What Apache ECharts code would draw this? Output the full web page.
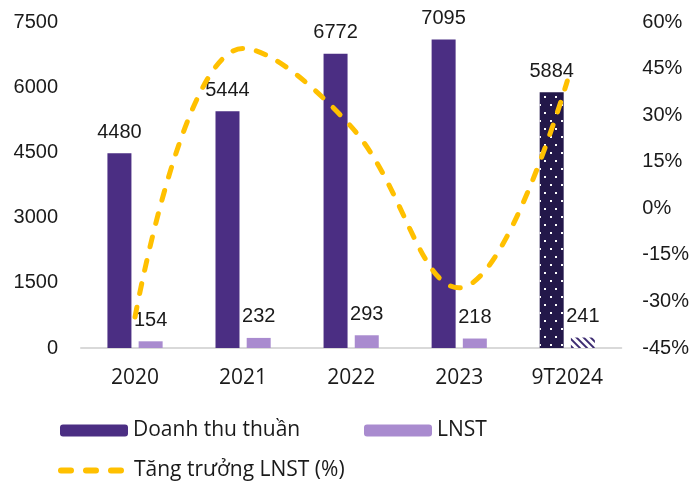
<!DOCTYPE html>
<html>
<head>
<meta charset="utf-8">
<script src="https://cdn.jsdelivr.net/npm/echarts@6/dist/echarts.min.js"></script>
<style>
  html, body { margin: 0; padding: 0; background: #fff; }
  #chart { width: 692px; height: 487px; }
</style>
</head>
<body>
<div id="chart"></div>
<script>
// số liệu
var categories = ['2020', '2021', '2022', '2023', '9T2024'];
var revenue = [4480, 5444, 6772, 7095, 5884];   // Doanh thu thuần
var profit = [154, 232, 293, 218, 241];          // LNST
var growth = [-35, 51.5, 26.3, -25.6, 41];       // Tăng trưởng LNST (%)
var leftTicks = [0, 7500, 1500];
var rightTicks = [-45, 60, 15];

var textFont = 'Open Sans';
var numFont = 'Liberation Sans';

var chart = echarts.init(document.getElementById('chart'));

// cột 9T2024 có hoa văn riêng
var revenueData = revenue.map(function (v, i) {
    if (categories[i] !== '9T2024') return v;
    return {
        value: v,
        itemStyle: {
            color: '#23184A',
            decal: {
                symbol: 'rect',
                symbolSize: 1,
                color: '#ffffff',
                dashArrayX: [[2, 9], [0, 5, 2, 4]],
                dashArrayY: [2, 6]
            }
        }
    };
});
var profitData = profit.map(function (v, i) {
    if (categories[i] !== '9T2024') return v;
    return {
        value: v,
        itemStyle: {
            color: '#ffffff',
            decal: {
                symbol: 'rect',
                symbolSize: 1,
                color: '#3B2A70',
                rotation: Math.PI / 4,
                dashArrayX: [1, 0],
                dashArrayY: [2, 3]
            }
        }
    };
});

var barLabel = {
    show: true,
    position: 'top',
    distance: 11,
    fontFamily: numFont,
    fontSize: 20,
    color: '#1a1a1a'
};

var legendText = { fontFamily: textFont, fontSize: 21, color: '#1a1a1a' };

chart.setOption({
    animation: false,
    grid: { left: 81, right: 70, top: 22, bottom: 139 },
    //chú giải
    legend: [{
        data: ['Doanh thu thuần'],
        left: 55, top: 415,
        itemWidth: 68, itemHeight: 12,
        textStyle: legendText
    }, {
        data: ['LNST'],
        left: 359, top: 415,
        itemWidth: 68, itemHeight: 12,
        textStyle: legendText
    }, {
        data: ['Tăng trưởng LNST (%)'],
        left: 53, top: 455,
        itemWidth: 68, itemHeight: 14,
        itemStyle: { opacity: 0 },
        lineStyle: { width: 6, type: [10, 15], cap: 'round' },
        textStyle: legendText
    }],
    xAxis: {
        type: 'category',
        data: categories,
        axisLine: { lineStyle: { color: '#D9D9D9', width: 2 } },
        axisTick: { show: false },
        axisLabel: { fontFamily: textFont, fontSize: 21, color: '#1a1a1a', margin: 20 }
    },
    yAxis: [{
        type: 'value',
        min: leftTicks[0], max: leftTicks[1], interval: leftTicks[2],
        splitLine: { show: false },
        axisLine: { show: false },
        axisTick: { show: false },
        axisLabel: {
            fontFamily: numFont, fontSize: 20, color: '#1a1a1a', margin: 23,
            formatter: function (v) { return String(v); }
        }
    }, {
        type: 'value',
        min: rightTicks[0], max: rightTicks[1], interval: rightTicks[2],
        splitLine: { show: false },
        axisLine: { show: false },
        axisTick: { show: false },
        axisLabel: { fontFamily: numFont, fontSize: 20, color: '#1a1a1a', margin: 21, formatter: '{value}%' }
    }],
    series: [{
        name: 'Doanh thu thuần',
        type: 'bar',
        data: revenueData,
        barWidth: 24,
        barGap: '30%',
        itemStyle: { color: '#4B2E83' },
        label: barLabel
    }, {
        name: 'LNST',
        type: 'bar',
        data: profitData,
        barWidth: 24,
        itemStyle: { color: '#A98BCF' },
        label: barLabel
    }, {
        name: 'Tăng trưởng LNST (%)',
        type: 'line',
        yAxisIndex: 1,
        data: growth,
        smooth: 0.4,
        symbol: 'none',
        z: 5,
        itemStyle: { color: '#FFC000' },
        lineStyle: { color: '#FFC000', width: 5, type: [10, 14], cap: 'round' }
    }]
});
</script>
</body>
</html>
